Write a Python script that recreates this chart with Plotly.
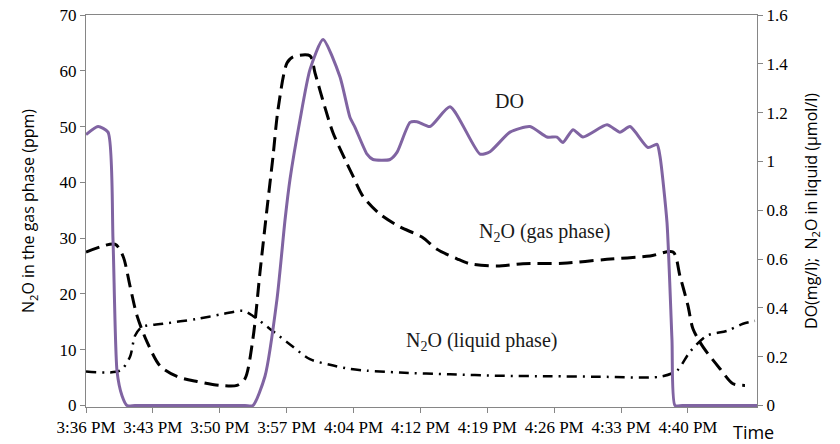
import plotly.graph_objects as go

# time in minutes after 3:36 PM
tick_labels = ["3:36 PM", "3:43 PM", "3:50 PM", "3:57 PM", "4:04 PM",
               "4:12 PM", "4:19 PM", "4:26 PM", "4:33 PM", "4:40 PM"]
tick_minutes = [i * 64 / 9 for i in range(len(tick_labels))]

do_t = [0, 1.28, 2.34, 2.87, 3.30, 3.83, 4.36, 5.2, 10.0, 16.9, 17.75, 19.03, 20.31,
        21.16, 21.69,
        22.75, 23.81, 25.20, 27.0, 28.07, 28.60, 29.88, 30.51, 32.32, 33.06, 34.45,
        35.19, 36.57, 38.70, 41.89, 42.95, 45.08, 47.20, 49.01, 50.07, 50.71, 51.78,
        52.84, 55.39, 56.77, 57.84, 59.75, 60.71, 61.03, 61.77, 62.30, 62.62, 63.4,
        67.0, 70.5, 71.34]
do_val = [1.11, 1.143, 1.12, 0.68, 0.14, 0.04, 0, 0, 0, 0, 0, 0.12, 0.437,
          0.76, 0.927,
          1.17, 1.376, 1.50, 1.347, 1.18, 1.14, 1.03, 1.008, 1.008, 1.037, 1.16,
          1.163, 1.143, 1.224, 1.03, 1.04, 1.12, 1.143, 1.10, 1.10, 1.078, 1.13,
          1.10, 1.15, 1.12, 1.143, 1.057, 1.07, 1.02, 0.75, 0.27, 0, 0,
          0, 0, 0]

gas_t = [0, 3.08, 3.93, 4.68, 5.42, 6.49, 7.87, 9.67, 11.80, 14.25, 16.05, 16.90,
         17.75, 18.50, 19.24, 19.88, 20.41, 21.37, 22.01, 23.81, 24.35, 25.41, 26.26,
         27.54, 28.39, 29.45, 31.26, 33.38, 35.72, 37.32, 39.44, 40.83, 43.70, 46.46,
         50.71, 55.39, 59.96, 62.41, 63.15, 64.0, 64.53, 65.60, 67.40, 68.79, 70.06]
gas_val = [27.5, 28.9, 26.8, 21.4, 16.1, 11.4, 7.1, 5.2, 4.3, 3.6, 3.6, 4.8,
           12, 23.9, 35.2, 44.6, 53, 61.4, 62.5, 62.7, 59.6, 53.4, 48.9,
           44.1, 41.1, 37.5, 34.3, 32, 30.2, 28, 26.3, 25.4, 25, 25.4,
           25.5, 26.2, 26.8, 27.5, 23.2, 17.9, 13.75, 10.5, 6.6, 3.9, 3.6]

liq_t = [0, 3.61, 4.68, 5.21, 5.95, 8.19, 11.80, 14.57, 16.69, 17.75, 19.56, 21.69,
         23.81, 25.94, 28.07, 29.87, 33.38, 38.70, 44.01, 49.33, 54.65, 61.03, 62.83,
         64.21, 66.02, 68.15, 69.85, 71.12]
liq_val = [0.139, 0.143, 0.2, 0.286, 0.322, 0.335, 0.355, 0.375, 0.388, 0.367, 0.314, 0.25,
           0.19, 0.167, 0.15, 0.143, 0.135, 0.128, 0.122, 0.12, 0.118, 0.118, 0.143,
           0.22, 0.286, 0.306, 0.335, 0.347]

AX = "#868686"
SERIF = "Liberation Serif"
SANS = "Open Sans"

fig = go.Figure()
fig.add_trace(go.Scatter(x=gas_t, y=gas_val, mode="lines", yaxis="y",
                         line=dict(color="black", width=3, dash="14px,7px",
                                   shape="spline", smoothing=0.8),
                         name="N2O (gas phase)"))
fig.add_trace(go.Scatter(x=liq_t, y=liq_val, mode="lines", yaxis="y2",
                         line=dict(color="black", width=2.5, dash="10px,6px,2px,6px",
                                   shape="spline", smoothing=0.8),
                         name="N2O (liquid phase)"))
fig.add_trace(go.Scatter(x=do_t, y=do_val, mode="lines", yaxis="y2",
                         line=dict(color="#8064A2", width=3, shape="spline", smoothing=0.6),
                         name="DO"))

fig.update_layout(
    width=840, height=444,
    margin=dict(l=86, r=83, t=15, b=37, autoexpand=False),
    paper_bgcolor="white", plot_bgcolor="white",
    font=dict(family=SERIF, size=17, color="black"),
    showlegend=False,
    xaxis=dict(range=[0, 71.34], tickmode="array", tickvals=tick_minutes,
               ticktext=tick_labels, showgrid=False, zeroline=False, automargin=False,
               showline=True, linecolor=AX, linewidth=1, mirror=True,
               ticks="outside", ticklen=5, tickcolor=AX,
               tickfont=dict(family=SERIF, size=17, color="black")),
    yaxis=dict(range=[-0.27, 70], tickvals=[0, 10, 20, 30, 40, 50, 60, 70],
               showgrid=False, zeroline=False, automargin=False,
               showline=True, linecolor=AX, linewidth=1,
               ticks="outside", ticklen=5, tickcolor=AX,
               tickfont=dict(family=SERIF, size=17, color="black"),
               title=dict(text="N<sub>2</sub>O in the gas phase (ppm)",
                          font=dict(family=SANS, size=16, color="black"), standoff=20)),
    yaxis2=dict(range=[-0.006, 1.6], tickvals=[0, 0.2, 0.4, 0.6, 0.8, 1, 1.2, 1.4, 1.6],
                overlaying="y", side="right", automargin=False,
                showgrid=False, zeroline=False,
                showline=True, linecolor=AX, linewidth=1,
                ticks="outside", ticklen=5, tickcolor=AX,
                tickfont=dict(family=SERIF, size=17, color="black"),
                title=dict(text="DO(mg/l);  N<sub>2</sub>O in liquid (μmol/l)",
                           font=dict(family=SANS, size=16, color="black"), standoff=18)),
    annotations=[
        dict(text="DO", x=45.0, y=54.5, xref="x", yref="y", showarrow=False,
             font=dict(family=SERIF, size=20, color="#1a1a1a")),
        dict(text="N<sub>2</sub>O (gas phase)", x=48.7, y=31.1, xref="x", yref="y",
             showarrow=False, font=dict(family=SERIF, size=20, color="#1a1a1a")),
        dict(text="N<sub>2</sub>O (liquid phase)", x=42.0, y=11.4, xref="x", yref="y",
             showarrow=False, font=dict(family=SERIF, size=20, color="#1a1a1a")),
        dict(text="Time", x=(753 - 86) / 671, y=(407 - 432) / 392,
             xref="paper", yref="paper", xanchor="center", yanchor="middle",
             showarrow=False, font=dict(family=SANS, size=18, color="black")),
    ],
)

fig.write_html("out.html")
